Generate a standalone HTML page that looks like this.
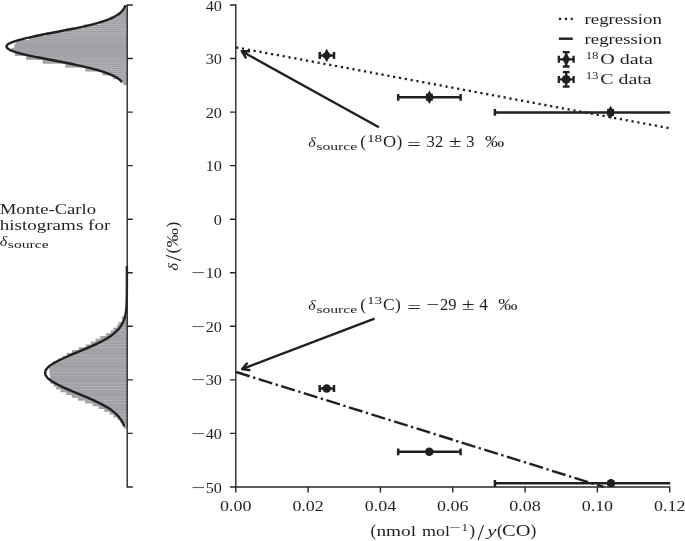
<!DOCTYPE html>
<html lang="en"><head><meta charset="utf-8"><title>Monte-Carlo regression plot</title>
<style>html,body{margin:0;padding:0;background:#fff}body{width:685px;height:541px;overflow:hidden}svg{display:block}</style>
</head><body>
<svg width="685" height="541" viewBox="0 0 685 541" font-family='"Liberation Serif", "DejaVu Serif", serif' fill="#231f20">
<rect width="685" height="541" fill="#fff"/>
<g fill="#a1a2a6"><rect x="124.3" y="5.00" width="2.9" height="2.17"/><rect x="124.3" y="6.95" width="2.9" height="2.17"/><rect x="122.6" y="8.90" width="4.6" height="2.17"/><rect x="122.6" y="10.85" width="4.6" height="2.17"/><rect x="117.8" y="12.80" width="9.4" height="2.17"/><rect x="117.8" y="14.75" width="9.4" height="2.17"/><rect x="109.7" y="16.70" width="17.5" height="2.17"/><rect x="109.7" y="18.65" width="17.5" height="2.17"/><rect x="100.2" y="20.60" width="27.0" height="2.17"/><rect x="100.2" y="22.55" width="27.0" height="2.17"/><rect x="83.7" y="24.50" width="43.5" height="2.17"/><rect x="83.7" y="26.45" width="43.5" height="2.17"/><rect x="66.2" y="28.40" width="61.0" height="2.17"/><rect x="66.2" y="30.35" width="61.0" height="2.17"/><rect x="46.3" y="32.30" width="80.9" height="2.17"/><rect x="46.3" y="34.25" width="80.9" height="2.17"/><rect x="29.0" y="36.20" width="98.2" height="2.17"/><rect x="29.0" y="38.15" width="98.2" height="2.17"/><rect x="15.6" y="40.10" width="111.6" height="2.17"/><rect x="15.6" y="42.05" width="111.6" height="2.17"/><rect x="14.3" y="44.00" width="112.9" height="2.17"/><rect x="14.3" y="45.95" width="112.9" height="2.17"/><rect x="11.4" y="47.90" width="115.8" height="2.17"/><rect x="11.4" y="49.85" width="115.8" height="2.17"/><rect x="14.9" y="51.80" width="112.3" height="2.17"/><rect x="14.9" y="53.75" width="112.3" height="2.17"/><rect x="26.1" y="55.70" width="101.1" height="2.17"/><rect x="26.1" y="57.65" width="101.1" height="2.17"/><rect x="42.7" y="59.60" width="84.5" height="2.17"/><rect x="42.7" y="61.55" width="84.5" height="2.17"/><rect x="65.2" y="63.50" width="62.0" height="2.17"/><rect x="65.2" y="65.45" width="62.0" height="2.17"/><rect x="85.3" y="67.40" width="41.9" height="2.17"/><rect x="85.3" y="69.35" width="41.9" height="2.17"/><rect x="102.4" y="71.30" width="24.8" height="2.17"/><rect x="102.4" y="73.25" width="24.8" height="2.17"/><rect x="112.8" y="75.20" width="14.4" height="2.17"/><rect x="112.8" y="77.15" width="14.4" height="2.17"/><rect x="120.6" y="79.10" width="6.6" height="2.17"/><rect x="120.6" y="81.05" width="6.6" height="2.17"/><rect x="123.4" y="83.00" width="3.8" height="2.17"/></g>
<g fill="#a1a2a6"><rect x="121.9" y="316.40" width="5.3" height="3.02"/><rect x="121.9" y="319.20" width="5.3" height="3.02"/><rect x="118.7" y="322.00" width="8.5" height="3.02"/><rect x="116.9" y="324.80" width="10.3" height="3.02"/><rect x="113.4" y="327.60" width="13.8" height="3.02"/><rect x="110.6" y="330.40" width="16.6" height="3.02"/><rect x="106.1" y="333.20" width="21.1" height="3.02"/><rect x="100.2" y="336.00" width="27.0" height="3.02"/><rect x="95.5" y="338.80" width="31.7" height="3.02"/><rect x="90.8" y="341.60" width="36.4" height="3.02"/><rect x="85.8" y="344.40" width="41.4" height="3.02"/><rect x="78.7" y="347.20" width="48.5" height="3.02"/><rect x="72.0" y="350.00" width="55.2" height="3.02"/><rect x="66.6" y="352.80" width="60.6" height="3.02"/><rect x="62.9" y="355.60" width="64.3" height="3.02"/><rect x="58.2" y="358.40" width="69.0" height="3.02"/><rect x="53.1" y="361.20" width="74.1" height="3.02"/><rect x="51.8" y="364.00" width="75.4" height="3.02"/><rect x="49.3" y="366.80" width="77.9" height="3.02"/><rect x="49.4" y="369.60" width="77.8" height="3.02"/><rect x="49.5" y="372.40" width="77.7" height="3.02"/><rect x="50.2" y="375.20" width="77.0" height="3.02"/><rect x="50.1" y="378.00" width="77.1" height="3.02"/><rect x="50.5" y="380.80" width="76.7" height="3.02"/><rect x="53.6" y="383.60" width="73.6" height="3.02"/><rect x="56.2" y="386.40" width="71.0" height="3.02"/><rect x="60.6" y="389.20" width="66.6" height="3.02"/><rect x="66.1" y="392.00" width="61.1" height="3.02"/><rect x="71.8" y="394.80" width="55.4" height="3.02"/><rect x="78.0" y="397.60" width="49.2" height="3.02"/><rect x="85.1" y="400.40" width="42.1" height="3.02"/><rect x="92.6" y="403.20" width="34.6" height="3.02"/><rect x="98.7" y="406.00" width="28.5" height="3.02"/><rect x="104.3" y="408.80" width="22.9" height="3.02"/><rect x="109.6" y="411.60" width="17.6" height="3.02"/><rect x="113.5" y="414.40" width="13.7" height="3.02"/><rect x="117.7" y="417.20" width="9.5" height="3.02"/><rect x="120.5" y="420.00" width="6.7" height="3.02"/><rect x="123.4" y="422.80" width="3.8" height="3.02"/><rect x="123.8" y="425.60" width="3.4" height="3.02"/></g>
<path d="M125.31,5.30 L125.14,5.80 L124.95,6.30 L124.74,6.80 L124.51,7.30 L124.26,7.80 L123.99,8.30 L123.69,8.80 L123.37,9.30 L123.02,9.80 L122.65,10.30 L122.24,10.80 L121.80,11.30 L121.32,11.80 L120.81,12.30 L120.26,12.80 L119.66,13.30 L119.03,13.80 L118.35,14.30 L117.62,14.80 L116.85,15.30 L116.02,15.80 L115.15,16.30 L114.21,16.80 L113.22,17.30 L112.17,17.80 L111.07,18.30 L109.90,18.80 L108.66,19.30 L107.36,19.80 L106.00,20.30 L104.57,20.80 L103.07,21.30 L101.51,21.80 L99.87,22.30 L98.17,22.80 L96.40,23.30 L94.56,23.80 L92.65,24.30 L90.68,24.80 L88.64,25.30 L86.54,25.80 L84.38,26.30 L82.16,26.80 L79.89,27.30 L77.56,27.80 L75.18,28.30 L72.76,28.80 L70.29,29.30 L67.79,29.80 L65.26,30.30 L62.70,30.80 L60.12,31.30 L57.52,31.80 L54.92,32.30 L52.31,32.80 L49.71,33.30 L47.11,33.80 L44.54,34.30 L41.99,34.80 L39.47,35.30 L37.00,35.80 L34.57,36.30 L32.19,36.80 L29.88,37.30 L27.64,37.80 L25.48,38.30 L23.40,38.80 L21.41,39.30 L19.53,39.80 L17.75,40.30 L16.08,40.80 L14.53,41.30 L13.10,41.80 L11.80,42.30 L10.63,42.80 L9.60,43.30 L8.72,43.80 L7.98,44.30 L7.38,44.80 L6.94,45.30 L6.65,45.80 L6.51,46.30 L6.53,46.80 L6.70,47.30 L7.02,47.80 L7.49,48.30 L8.11,48.80 L8.88,49.30 L9.80,49.80 L10.85,50.30 L12.05,50.80 L13.37,51.30 L14.83,51.80 L16.40,52.30 L18.09,52.80 L19.90,53.30 L21.80,53.80 L23.81,54.30 L25.90,54.80 L28.08,55.30 L30.34,55.80 L32.66,56.30 L35.05,56.80 L37.49,57.30 L39.97,57.80 L42.50,58.30 L45.05,58.80 L47.63,59.30 L50.23,59.80 L52.83,60.30 L55.44,60.80 L58.04,61.30 L60.64,61.80 L63.21,62.30 L65.77,62.80 L68.30,63.30 L70.79,63.80 L73.25,64.30 L75.66,64.80 L78.03,65.30 L80.35,65.80 L82.61,66.30 L84.82,66.80 L86.97,67.30 L89.06,67.80 L91.08,68.30 L93.04,68.80 L94.93,69.30 L96.76,69.80 L98.52,70.30 L100.21,70.80 L101.83,71.30 L103.38,71.80 L104.86,72.30 L106.28,72.80 L107.63,73.30 L108.91,73.80 L110.14,74.30 L111.29,74.80 L112.39,75.30 L113.43,75.80 L114.40,76.30 L115.33,76.80 L116.19,77.30 L117.01,77.80 L117.77,78.30 L118.49,78.80 L119.16,79.30 L119.79,79.80 L120.37,80.30 L120.91,80.80 L121.42,81.30 L121.89,81.80" fill="none" stroke="#231f20" stroke-width="2.4" stroke-linejoin="round"/>
<path d="M126.90,266.00 L126.90,266.50 L126.90,267.00 L126.90,267.50 L126.90,268.00 L126.90,268.51 L126.90,269.01 L126.90,269.51 L126.90,270.01 L126.90,270.51 L126.90,271.01 L126.90,271.51 L126.90,272.01 L126.90,272.52 L126.90,273.02 L126.90,273.52 L126.90,274.02 L126.90,274.52 L126.90,275.02 L126.90,275.52 L126.90,276.02 L126.90,276.53 L126.90,277.03 L126.90,277.53 L126.90,278.03 L126.90,278.53 L126.90,279.03 L126.90,279.53 L126.90,280.03 L126.90,280.54 L126.90,281.04 L126.90,281.54 L126.90,282.04 L126.89,282.54 L126.89,283.04 L126.89,283.54 L126.89,284.05 L126.89,284.55 L126.89,285.05 L126.89,285.55 L126.89,286.05 L126.89,286.55 L126.89,287.05 L126.89,287.55 L126.88,288.06 L126.88,288.56 L126.88,289.06 L126.88,289.56 L126.88,290.06 L126.87,290.56 L126.87,291.06 L126.87,291.56 L126.86,292.06 L126.86,292.57 L126.86,293.07 L126.85,293.57 L126.85,294.07 L126.84,294.57 L126.84,295.07 L126.83,295.57 L126.83,296.07 L126.82,296.58 L126.81,297.08 L126.80,297.58 L126.79,298.08 L126.78,298.58 L126.77,299.08 L126.76,299.58 L126.75,300.08 L126.73,300.59 L126.72,301.09 L126.70,301.59 L126.69,302.09 L126.67,302.59 L126.65,303.09 L126.63,303.59 L126.60,304.09 L126.58,304.60 L126.55,305.10 L126.52,305.60 L126.49,306.10 L126.46,306.60 L126.42,307.10 L126.38,307.60 L126.34,308.11 L126.29,308.61 L126.25,309.11 L126.19,309.61 L126.14,310.11 L126.08,310.61 L126.02,311.11 L125.95,311.61 L125.88,312.12 L125.80,312.62 L125.72,313.12 L125.63,313.62 L125.54,314.12 L125.44,314.62 L125.34,315.12 L125.23,315.62 L125.11,316.12 L124.99,316.63 L124.85,317.13 L124.72,317.63 L124.57,318.13 L124.41,318.63 L124.25,319.13 L124.07,319.63 L123.89,320.13 L123.69,320.64 L123.49,321.14 L123.27,321.64 L123.04,322.14 L122.81,322.64 L122.55,323.14 L122.29,323.64 L122.01,324.14 L121.72,324.65 L121.42,325.15 L121.10,325.65 L120.77,326.15 L120.42,326.65 L120.05,327.15 L119.67,327.65 L119.27,328.15 L118.86,328.66 L118.43,329.16 L117.98,329.66 L117.51,330.16 L117.02,330.66 L116.51,331.16 L115.99,331.66 L115.44,332.16 L114.88,332.67 L114.29,333.17 L113.69,333.67 L113.06,334.17 L112.41,334.67 L111.74,335.17 L111.05,335.67 L110.34,336.17 L109.60,336.68 L108.85,337.18 L108.07,337.68 L107.27,338.18 L106.45,338.68 L105.61,339.18 L104.74,339.68 L103.85,340.19 L102.95,340.69 L102.02,341.19 L101.07,341.69 L100.10,342.19 L99.12,342.69 L98.11,343.19 L97.08,343.69 L96.04,344.19 L94.98,344.70 L93.90,345.20 L92.80,345.70 L91.69,346.20 L90.57,346.70 L89.43,347.20 L88.28,347.70 L87.12,348.20 L85.95,348.71 L84.77,349.21 L83.58,349.71 L82.38,350.21 L81.18,350.71 L79.97,351.21 L78.76,351.71 L77.55,352.21 L76.34,352.72 L75.13,353.22 L73.92,353.72 L72.72,354.22 L71.52,354.72 L70.33,355.22 L69.15,355.72 L67.98,356.23 L66.82,356.73 L65.68,357.23 L64.55,357.73 L63.44,358.23 L62.34,358.73 L61.27,359.23 L60.22,359.73 L59.19,360.24 L58.19,360.74 L57.21,361.24 L56.27,361.74 L55.35,362.24 L54.47,362.74 L53.61,363.24 L52.80,363.74 L52.01,364.25 L51.27,364.75 L50.56,365.25 L49.89,365.75 L49.27,366.25 L48.68,366.75 L48.14,367.25 L47.64,367.75 L47.18,368.25 L46.77,368.76 L46.41,369.26 L46.09,369.76 L45.82,370.26 L45.60,370.76 L45.43,371.26 L45.30,371.76 L45.23,372.26 L45.20,372.77 L45.22,373.27 L45.29,373.77 L45.41,374.27 L45.58,374.77 L45.79,375.27 L46.06,375.77 L46.37,376.27 L46.72,376.78 L47.13,377.28 L47.57,377.78 L48.07,378.28 L48.60,378.78 L49.18,379.28 L49.81,379.78 L50.47,380.28 L51.17,380.79 L51.91,381.29 L52.69,381.79 L53.50,382.29 L54.35,382.79 L55.23,383.29 L56.14,383.79 L57.09,384.29 L58.06,384.80 L59.05,385.30 L60.08,385.80 L61.13,386.30 L62.20,386.80 L63.29,387.30 L64.40,387.80 L65.52,388.30 L66.67,388.81 L67.82,389.31 L68.99,389.81 L70.17,390.31 L71.36,390.81 L72.56,391.31 L73.76,391.81 L74.97,392.31 L76.18,392.82 L77.39,393.32 L78.60,393.82 L79.81,394.32 L81.02,394.82 L82.22,395.32 L83.42,395.82 L84.61,396.32 L85.79,396.83 L86.96,397.33 L88.13,397.83 L89.28,398.33 L90.42,398.83 L91.54,399.33 L92.65,399.83 L93.75,400.33 L94.83,400.84 L95.90,401.34 L96.94,401.84 L97.97,402.34 L98.98,402.84 L99.97,403.34 L100.94,403.84 L101.89,404.34 L102.82,404.85 L103.73,405.35 L104.62,405.85 L105.49,406.35 L106.34,406.85 L107.16,407.35 L107.96,407.85 L108.74,408.35 L109.50,408.86 L110.24,409.36 L110.96,409.86 L111.65,410.36 L112.32,410.86 L112.97,411.36 L113.60,411.86 L114.21,412.37 L114.80,412.87 L115.37,413.37 L115.92,413.87 L116.45,414.37 L116.95,414.87 L117.44,415.37 L117.91,415.87 L118.37,416.38 L118.80,416.88 L119.22,417.38 L119.62,417.88 L120.00,418.38 L120.37,418.88 L120.72,419.38 L121.06,419.88 L121.38,420.38 L121.68,420.89 L121.98,421.39 L122.25,421.89 L122.52,422.39 L122.77,422.89 L123.01,423.39 L123.24,423.89 L123.46,424.39 L123.67,424.90 L123.86,425.40 L124.05,425.90 L124.22,426.40" fill="none" stroke="#231f20" stroke-width="2.4" stroke-linejoin="round"/>
<path d="M127.2,5.0 V486.95 M127.2,5.00 h4.9 M127.2,58.55 h4.9 M127.2,112.10 h4.9 M127.2,165.65 h4.9 M127.2,219.20 h4.9 M127.2,272.75 h4.9 M127.2,326.30 h4.9 M127.2,379.85 h4.9 M127.2,433.40 h4.9 M127.2,486.95 h4.9 M235.8,5.0 V486.95 H669.7 M235.8,5.00 h-5.2 M235.8,58.55 h-5.2 M235.8,112.10 h-5.2 M235.8,165.65 h-5.2 M235.8,219.20 h-5.2 M235.8,272.75 h-5.2 M235.8,326.30 h-5.2 M235.8,379.85 h-5.2 M235.8,433.40 h-5.2 M235.8,486.95 h-5.2 M235.80,486.95 v4.9 M308.12,486.95 v4.9 M380.43,486.95 v4.9 M452.75,486.95 v4.9 M525.07,486.95 v4.9 M597.38,486.95 v4.9 M669.70,486.95 v4.9" fill="none" stroke="#2b2728" stroke-width="1.4" stroke-linecap="square"/>
<text x="205.70" y="10.55" font-size="15.4" textLength="16.20" lengthAdjust="spacingAndGlyphs">40</text>
<text x="205.70" y="64.10" font-size="15.4" textLength="16.20" lengthAdjust="spacingAndGlyphs">30</text>
<text x="205.70" y="117.65" font-size="15.4" textLength="16.20" lengthAdjust="spacingAndGlyphs">20</text>
<text x="205.70" y="171.20" font-size="15.4" textLength="16.20" lengthAdjust="spacingAndGlyphs">10</text>
<text x="213.80" y="224.75" font-size="15.4" textLength="8.10" lengthAdjust="spacingAndGlyphs">0</text>
<text x="205.70" y="278.30" font-size="15.4" textLength="16.20" lengthAdjust="spacingAndGlyphs">10</text>
<text x="191.30" y="278.30" font-size="15.4" textLength="14.00" lengthAdjust="spacingAndGlyphs">−</text>
<text x="205.70" y="331.85" font-size="15.4" textLength="16.20" lengthAdjust="spacingAndGlyphs">20</text>
<text x="191.30" y="331.85" font-size="15.4" textLength="14.00" lengthAdjust="spacingAndGlyphs">−</text>
<text x="205.70" y="385.40" font-size="15.4" textLength="16.20" lengthAdjust="spacingAndGlyphs">30</text>
<text x="191.30" y="385.40" font-size="15.4" textLength="14.00" lengthAdjust="spacingAndGlyphs">−</text>
<text x="205.70" y="438.95" font-size="15.4" textLength="16.20" lengthAdjust="spacingAndGlyphs">40</text>
<text x="191.30" y="438.95" font-size="15.4" textLength="14.00" lengthAdjust="spacingAndGlyphs">−</text>
<text x="205.70" y="492.50" font-size="15.4" textLength="16.20" lengthAdjust="spacingAndGlyphs">50</text>
<text x="191.30" y="492.50" font-size="15.4" textLength="14.00" lengthAdjust="spacingAndGlyphs">−</text>
<text x="220.10" y="511.30" font-size="15.4" textLength="31.40" lengthAdjust="spacingAndGlyphs">0.00</text>
<text x="292.42" y="511.30" font-size="15.4" textLength="31.40" lengthAdjust="spacingAndGlyphs">0.02</text>
<text x="364.73" y="511.30" font-size="15.4" textLength="31.40" lengthAdjust="spacingAndGlyphs">0.04</text>
<text x="437.05" y="511.30" font-size="15.4" textLength="31.40" lengthAdjust="spacingAndGlyphs">0.06</text>
<text x="509.37" y="511.30" font-size="15.4" textLength="31.40" lengthAdjust="spacingAndGlyphs">0.08</text>
<text x="581.68" y="511.30" font-size="15.4" textLength="31.40" lengthAdjust="spacingAndGlyphs">0.10</text>
<text x="654.00" y="511.30" font-size="15.4" textLength="31.40" lengthAdjust="spacingAndGlyphs">0.12</text>
<path d="M236.1,47.35 L670.0,128.3" stroke="#231f20" stroke-width="2.3" stroke-dasharray="2.23 3.685" fill="none"/>
<path d="M236.1,372.0 L603.7,486.95" stroke="#231f20" stroke-width="2.4" stroke-dasharray="14.2 3.6 2.3 3.54" fill="none"/>
<path d="M318.80,55.50 H334.90 M319.70,52.10 v6.80 M334.00,52.10 v6.80" stroke="#231f20" stroke-width="2.5" fill="none"/>
<path d="M326.70,48.80 l3.8,6.7 l-3.8,6.7 l-3.8,-6.7z"/>
<rect x="323.20" y="53.30" width="7" height="4.40"/>
<path d="M397.30,97.30 H461.50 M398.20,93.90 v6.80 M460.60,93.90 v6.80" stroke="#231f20" stroke-width="2.5" fill="none"/>
<path d="M429.40,90.50 l3.8,6.7 l-3.8,6.7 l-3.8,-6.7z"/>
<rect x="425.90" y="93.70" width="7" height="7.00"/>
<path d="M494.00,112.40 H670.20 M494.90,109.00 v6.80" stroke="#231f20" stroke-width="2.5" fill="none"/>
<path d="M610.60,105.70 l3.8,6.7 l-3.8,6.7 l-3.8,-6.7z"/>
<rect x="607.10" y="108.90" width="7" height="7.00"/>
<clipPath id="c"><rect x="235.8" y="0" width="433.90000000000003" height="486.95"/></clipPath>
<path d="M318.80,388.50 H334.90 M319.70,385.10 v6.80 M334.00,385.10 v6.80" stroke="#231f20" stroke-width="2.5" fill="none"/>
<circle cx="326.70" cy="388.50" r="4.25"/>
<path d="M397.30,451.80 H461.50 M398.20,448.40 v6.80 M460.60,448.40 v6.80" stroke="#231f20" stroke-width="2.5" fill="none"/>
<circle cx="429.30" cy="451.80" r="4.25"/>
<path d="M494.00,483.30 H670.20 M494.90,479.90 v6.80" stroke="#231f20" stroke-width="2.5" fill="none"/>
<circle cx="611.00" cy="483.20" r="4.25" clip-path="url(#c)"/>
<path d="M378.90,127.20 L241.70,51.20 M246.20,58.29 L241.70,51.20 L250.10,51.25" stroke="#231f20" stroke-width="2.4" fill="none" stroke-linejoin="round" stroke-linecap="butt"/>
<path d="M374.50,318.70 L242.10,369.10 M250.42,370.24 L242.10,369.10 L247.56,362.71" stroke="#231f20" stroke-width="2.4" fill="none" stroke-linejoin="round" stroke-linecap="butt"/>
<text x="308.20" y="146.80" font-size="14.6" font-style="italic" textLength="7.40" lengthAdjust="spacingAndGlyphs">δ</text>
<text x="316.40" y="149.60" font-size="10.2" textLength="40.80" lengthAdjust="spacingAndGlyphs">source</text>
<text x="360.20" y="146.80" font-size="16" textLength="5.80" lengthAdjust="spacingAndGlyphs">(</text>
<text x="367.00" y="141.50" font-size="10.4" textLength="15.20" lengthAdjust="spacingAndGlyphs">18</text>
<text x="383.00" y="146.80" font-size="16" textLength="13.20" lengthAdjust="spacingAndGlyphs">O</text>
<text x="396.50" y="146.80" font-size="16" textLength="5.80" lengthAdjust="spacingAndGlyphs">)</text>
<text x="407.30" y="150.00" font-size="16" textLength="13.60" lengthAdjust="spacingAndGlyphs">=</text>
<text x="426.60" y="146.80" font-size="16" textLength="16.60" lengthAdjust="spacingAndGlyphs">32</text>
<text x="448.80" y="146.80" font-size="16" textLength="12.80" lengthAdjust="spacingAndGlyphs">±</text>
<text x="466.30" y="146.80" font-size="16" textLength="8.20" lengthAdjust="spacingAndGlyphs">3</text>
<text x="485.00" y="146.80" font-size="16" textLength="19.20" lengthAdjust="spacingAndGlyphs">‰</text>
<text x="308.20" y="309.70" font-size="14.6" font-style="italic" textLength="7.40" lengthAdjust="spacingAndGlyphs">δ</text>
<text x="316.40" y="312.50" font-size="10.2" textLength="40.80" lengthAdjust="spacingAndGlyphs">source</text>
<text x="360.20" y="309.70" font-size="16" textLength="5.80" lengthAdjust="spacingAndGlyphs">(</text>
<text x="367.00" y="304.40" font-size="10.4" textLength="15.20" lengthAdjust="spacingAndGlyphs">13</text>
<text x="383.00" y="309.70" font-size="16" textLength="11.60" lengthAdjust="spacingAndGlyphs">C</text>
<text x="394.90" y="309.70" font-size="16" textLength="5.80" lengthAdjust="spacingAndGlyphs">)</text>
<text x="407.30" y="312.90" font-size="16" textLength="13.60" lengthAdjust="spacingAndGlyphs">=</text>
<text x="426.20" y="309.70" font-size="16" textLength="13.00" lengthAdjust="spacingAndGlyphs">−</text>
<text x="440.00" y="309.70" font-size="16" textLength="16.60" lengthAdjust="spacingAndGlyphs">29</text>
<text x="461.80" y="309.70" font-size="16" textLength="12.80" lengthAdjust="spacingAndGlyphs">±</text>
<text x="479.20" y="309.70" font-size="16" textLength="8.60" lengthAdjust="spacingAndGlyphs">4</text>
<text x="498.30" y="309.70" font-size="16" textLength="19.20" lengthAdjust="spacingAndGlyphs">‰</text>
<path d="M558.9,18.9 H572.8" stroke="#231f20" stroke-width="2.3" stroke-dasharray="2.23 3.685" fill="none"/>
<path d="M558.9,38.7 H572.8" stroke="#231f20" stroke-width="2.4" fill="none"/>
<text x="584.50" y="23.80" font-size="15" textLength="77.40" lengthAdjust="spacingAndGlyphs">regression</text>
<text x="584.50" y="43.80" font-size="15" textLength="77.40" lengthAdjust="spacingAndGlyphs">regression</text>
<path d="M557.7,59.3 H574.7 M558.8000000000001,55.8 v7 M573.6,55.8 v7 M566.2,51.0 V67.6 M562.8000000000001,52.099999999999994 h6.8 M562.8000000000001,66.5 h6.8" stroke="#231f20" stroke-width="2.3" fill="none"/>
<path d="M566.2,52.599999999999994 l3.9,6.7 l-3.9,6.7 l-3.9,-6.7z"/>
<path d="M557.7,79.4 H574.7 M558.8000000000001,75.9 v7 M573.6,75.9 v7 M566.2,71.10000000000001 V87.7 M562.8000000000001,72.2 h6.8 M562.8000000000001,86.60000000000001 h6.8" stroke="#231f20" stroke-width="2.3" fill="none"/>
<circle cx="566.2" cy="79.4" r="4.4"/>
<text x="585.70" y="58.60" font-size="10.4" textLength="12.80" lengthAdjust="spacingAndGlyphs">18</text>
<text x="600.20" y="63.90" font-size="15.2" textLength="52.80" lengthAdjust="spacingAndGlyphs">O data</text>
<text x="585.70" y="78.80" font-size="10.4" textLength="12.80" lengthAdjust="spacingAndGlyphs">13</text>
<text x="600.20" y="84.10" font-size="15.2" textLength="51.40" lengthAdjust="spacingAndGlyphs">C data</text>
<text x="-0.30" y="213.60" font-size="15.2" textLength="96.40" lengthAdjust="spacingAndGlyphs">Monte-Carlo</text>
<text x="-0.30" y="229.70" font-size="15.2" textLength="110.60" lengthAdjust="spacingAndGlyphs">histograms for</text>
<text x="-0.30" y="245.90" font-size="14.6" font-style="italic" textLength="7.40" lengthAdjust="spacingAndGlyphs">δ</text>
<text x="7.80" y="248.40" font-size="10.2" textLength="40.80" lengthAdjust="spacingAndGlyphs">source</text>
<g transform="translate(178,271) rotate(-90)">
<text x="0.30" y="0.00" font-size="14.6" font-style="italic" textLength="7.80" lengthAdjust="spacingAndGlyphs">δ</text>
<text x="9.80" y="3.20" font-size="23" textLength="6.60" lengthAdjust="spacingAndGlyphs">/</text>
<text x="17.60" y="0.00" font-size="16" textLength="5.80" lengthAdjust="spacingAndGlyphs">(</text>
<text x="23.60" y="0.00" font-size="16" textLength="19.40" lengthAdjust="spacingAndGlyphs">‰</text>
<text x="43.40" y="0.00" font-size="16" textLength="5.80" lengthAdjust="spacingAndGlyphs">)</text>
</g>
<text x="370.40" y="536.40" font-size="16" textLength="5.80" lengthAdjust="spacingAndGlyphs">(</text>
<text x="376.40" y="536.40" font-size="15" textLength="39.60" lengthAdjust="spacingAndGlyphs">nmol</text>
<text x="422.00" y="536.40" font-size="15" textLength="28.00" lengthAdjust="spacingAndGlyphs">mol</text>
<text x="449.60" y="531.40" font-size="10.4" textLength="11.80" lengthAdjust="spacingAndGlyphs">−</text>
<text x="461.60" y="531.40" font-size="10.4" textLength="6.60" lengthAdjust="spacingAndGlyphs">1</text>
<text x="469.20" y="536.40" font-size="16" textLength="5.80" lengthAdjust="spacingAndGlyphs">)</text>
<text x="477.60" y="539.60" font-size="23" textLength="6.60" lengthAdjust="spacingAndGlyphs">/</text>
<text x="487.20" y="536.40" font-size="15" font-style="italic" textLength="9.20" lengthAdjust="spacingAndGlyphs">y</text>
<text x="497.00" y="536.40" font-size="16" textLength="5.80" lengthAdjust="spacingAndGlyphs">(</text>
<text x="502.00" y="536.40" font-size="16" textLength="28.40" lengthAdjust="spacingAndGlyphs">CO</text>
<text x="530.40" y="536.40" font-size="16" textLength="5.80" lengthAdjust="spacingAndGlyphs">)</text>
</svg>
</body></html>
